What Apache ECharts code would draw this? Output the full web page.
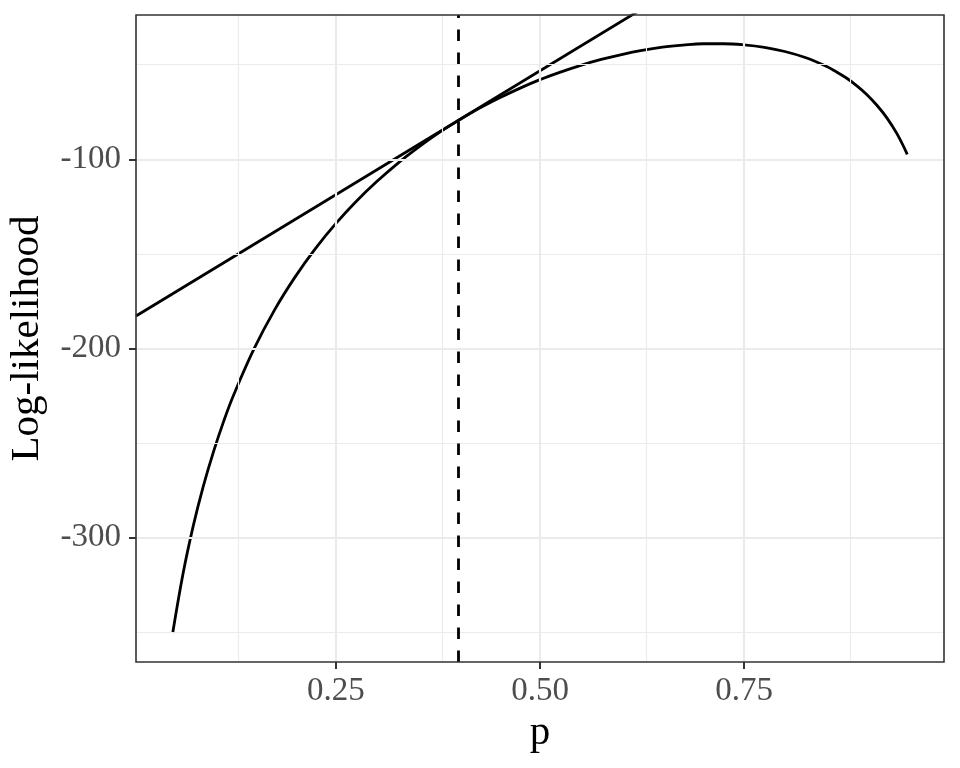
<!DOCTYPE html>
<html>
<head>
<meta charset="utf-8">
<script src="https://cdn.jsdelivr.net/npm/echarts@6/dist/echarts.min.js"></script>
<style>
html,body{margin:0;padding:0;background:#fff;}
#chart{width:960px;height:768px;}
</style>
</head>
<body>
<div id="chart"></div>
<script>
// ---- data ----
var pValues = [0.05, 0.0625, 0.075, 0.0875, 0.1, 0.1125, 0.125, 0.15, 0.175, 0.2, 0.225, 0.25,
  0.275, 0.3, 0.325, 0.35, 0.375, 0.4, 0.425, 0.45, 0.475, 0.5, 0.525, 0.55, 0.575,
  0.6, 0.625, 0.65, 0.675, 0.7, 0.725, 0.75, 0.775, 0.8, 0.825, 0.85, 0.8625, 0.875, 0.8875,
  0.9, 0.9125, 0.925, 0.9375, 0.95];
var logLik = [-350.6, -319.5, -294.2, -272.9, -254.6, -238.5, -224.3, -199.9, -179.5, -162.2, -147.1, -133.9,
  -122.2, -111.8, -102.4, -94.0, -86.3, -79.5, -73.2, -67.6, -62.5, -57.9, -53.9, -50.3, -47.2,
  -44.6, -42.4, -40.7, -39.6, -38.9, -38.9, -39.5, -40.8, -43.0, -46.2, -50.7, -53.6, -56.9, -60.9,
  -65.6, -71.3, -78.1, -86.6, -97.4];
var tangentP = [0.005, 0.65];
var tangentLL = [-182.9, -13.9];
var markP = 0.4;
var xTicks = [0.25, 0.5, 0.75];
var xMinor = [0.125, 0.375, 0.625, 0.875];
var yTicks = [-100, -200, -300];
var yMinor = [-50, -150, -250, -350];
var xRange = [0.005, 0.995];
var yRange = [-365.9, -23.7];

function zip(a, b) { return a.map(function (v, i) { return [v, b[i]]; }); }

var serif = 'Liberation Serif';
var gridLines = [];
xMinor.forEach(function (v) { gridLines.push({ xAxis: v, lineStyle: { color: '#EBEBEB', width: 1.1, type: 'solid' } }); });
yMinor.forEach(function (v) { gridLines.push({ yAxis: v, lineStyle: { color: '#EBEBEB', width: 1.1, type: 'solid' } }); });
xTicks.forEach(function (v) { gridLines.push({ xAxis: v, lineStyle: { color: '#EBEBEB', width: 2.2, type: 'solid' } }); });
yTicks.forEach(function (v) { gridLines.push({ yAxis: v, lineStyle: { color: '#EBEBEB', width: 2.2, type: 'solid' } }); });

var chart = echarts.init(document.getElementById('chart'), null, { renderer: 'canvas' });
chart.setOption({
  animation: false,
  backgroundColor: '#ffffff',
  grid: { left: 136, right: 16, top: 15, bottom: 106, containLabel: false, outerBoundsMode: 'none',
    show: true, borderColor: '#333333', borderWidth: 1.6, backgroundColor: 'transparent', z: 10 },
  xAxis: {
    type: 'value', min: xRange[0], max: xRange[1],
    name: 'p', nameLocation: 'middle', nameGap: 47,
    nameTextStyle: { fontFamily: serif, fontSize: 41, color: '#000' },
    axisLine: { show: false },
    axisTick: { show: true, length: 7, customValues: xTicks, lineStyle: { color: '#333333', width: 2 } },
    axisLabel: { customValues: xTicks, margin: 13, fontFamily: serif, fontSize: 33, color: '#4D4D4D',
      formatter: function (v) { return v.toFixed(2); } },
    splitLine: { show: false }
  },
  yAxis: {
    type: 'value', min: yRange[0], max: yRange[1],
    name: 'Log-likelihood', nameLocation: 'middle', nameGap: 88, nameRotate: 90,
    nameTextStyle: { fontFamily: serif, fontSize: 41, color: '#000' },
    axisLine: { show: false },
    axisTick: { show: true, length: 7, customValues: yTicks, lineStyle: { color: '#333333', width: 2 } },
    axisLabel: { customValues: yTicks, margin: 15, fontFamily: serif, fontSize: 33, color: '#4D4D4D',
      formatter: function (v) { return String(v); } },
    splitLine: { show: false }
  },
  series: [
    {
      name: 'grid', type: 'line', z: 1, silent: true,
      data: [],
      markLine: { silent: true, symbol: ['none', 'none'], label: { show: false }, animation: false, data: gridLines }
    },
    {
      name: 'loglik', type: 'line', z: 3, data: zip(pValues, logLik),
      showSymbol: false, smooth: 0.4,
      lineStyle: { color: '#000', width: 2.8 }
    },
    {
      name: 'tangent', type: 'line', z: 3, data: zip(tangentP, tangentLL),
      showSymbol: false, clip: true,
      lineStyle: { color: '#000', width: 2.8 },
      markLine: { silent: true, symbol: ['none', 'none'], label: { show: false }, animation: false,
        data: [{ xAxis: markP }],
        lineStyle: { color: '#000', width: 2.8, type: [11.5, 11.5] } }
    }
  ]
});
</script>
</body>
</html>
